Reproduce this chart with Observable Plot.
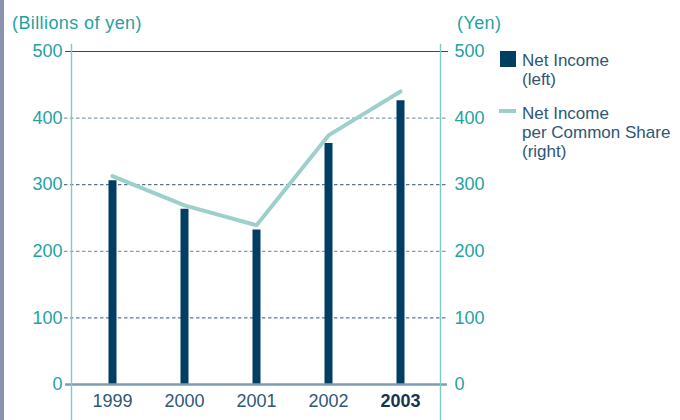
<!DOCTYPE html>
<html><head><meta charset="utf-8">
<script src="https://cdn.jsdelivr.net/npm/d3@7"></script>
<script src="https://cdn.jsdelivr.net/npm/@observablehq/plot@0.6"></script>
<style>
body{margin:0;background:#fff;}
#wrap{position:relative;width:680px;height:420px;overflow:hidden;font-family:"Liberation Sans",Arial,sans-serif;background:#fff;}
#wrap svg{position:absolute;left:0;top:0;}
#stripe{position:absolute;left:0;top:0;width:4px;height:420px;background:#8a92ad;}
.t{position:absolute;white-space:nowrap;}
.ttl{color:#1fa2a2;font-size:18px;line-height:20px;letter-spacing:0.4px;}
.lg{color:#2f5577;font-size:17px;line-height:19px;}
.sw{position:absolute;}
</style></head><body>
<div id="wrap"><div id="stripe"></div></div>
<script>
const years = ["1999","2000","2001","2002","2003"];
const netIncome = [306, 263, 232, 362, 426];        // billions of yen (left)
const perShare = [313, 269, 239, 374, 440];         // yen (right)
const yTicks = [0, 100, 200, 300, 400, 500];
const gridValues = [100, 200, 300, 400];
const leftTitle = "(Billions of yen)";
const rightTitle = "(Yen)";
const legendBar = ["Net Income", "(left)"];
const legendLine = ["Net Income", "per Common Share", "(right)"];
const boldYear = "2003";

const data = years.map((year, i) => ({year, ni: netIncome[i], eps: perShare[i]}));

const axisColor = "#1fa2a2";
const chart = Plot.plot({
  width: 680, height: 420,
  marginLeft: 71, marginRight: 240, marginTop: 51, marginBottom: 36,
  style: {fontFamily: "Liberation Sans, Arial, sans-serif", fontSize: "18px", background: "transparent"},
  x: {type: "point", domain: years, padding: 0.53},
  y: {domain: [0, 500]},
  marks: [
    Plot.ruleY(gridValues.filter(v => v % 200 === 0), {stroke: "#6a8499", strokeDasharray: "3.5,2.5", insetLeft: -7, insetRight: -7}),
    Plot.ruleY(gridValues.filter(v => v % 200 !== 0), {stroke: "#33536e", strokeDasharray: "3.5,2.5", insetLeft: -7, insetRight: -7}),
    Plot.ruleY([500], {stroke: "#2a4a66", insetLeft: -6, insetRight: -8}),
    Plot.ruleX(data, {x: "year", y1: 0, y2: "ni", stroke: "#003f63", strokeWidth: 8}),
    Plot.line(data, {x: "year", y: "eps", stroke: "#9dcfcb", strokeWidth: 4}),
    Plot.ruleY([0], {stroke: "#7f9db2", strokeWidth: 2.5, insetLeft: -6, insetRight: -7}),
    Plot.frame({anchor: "left", stroke: "#7fcaca", strokeWidth: 1.4, insetTop: -7, insetBottom: -36}),
    Plot.frame({anchor: "right", stroke: "#7fcaca", strokeWidth: 1.4, insetTop: -7, insetBottom: -36}),
    Plot.axisY({anchor: "left", ticks: yTicks, tickSize: 0, tickPadding: 9, color: axisColor, fill: axisColor, fontSize: 18, label: null}),
    Plot.axisY({anchor: "right", ticks: yTicks, tickSize: 0, tickPadding: 14, color: axisColor, fill: axisColor, fontSize: 18, label: null}),
    Plot.axisX({ticks: years.filter(y => y !== boldYear), tickSize: 0, tickPadding: 10, fill: "#2e5878", fontSize: 18, label: null}),
    Plot.axisX({ticks: [boldYear], tickSize: 0, tickPadding: 10, fill: "#173450", fontSize: 18, fontWeight: "bold", label: null})
  ]
});
const wrap = document.getElementById("wrap");
wrap.appendChild(chart);

function addText(lines, cls, left, top) {
  const d = document.createElement("div");
  d.className = "t " + cls;
  d.style.left = left + "px"; d.style.top = top + "px";
  lines.forEach((s, i) => {
    if (i) d.appendChild(document.createElement("br"));
    d.appendChild(document.createTextNode(s));
  });
  wrap.appendChild(d);
}
addText([leftTitle], "ttl", 12, 13);
addText([rightTitle], "ttl", 457, 13);
addText(legendBar, "lg", 522, 51);
addText(legendLine, "lg", 522, 104);
const sq = document.createElement("div");
sq.className = "sw";
Object.assign(sq.style, {left: "500px", top: "51px", width: "16px", height: "16px", background: "#003f63"});
wrap.appendChild(sq);
const ln = document.createElement("div");
ln.className = "sw";
Object.assign(ln.style, {left: "499px", top: "109px", width: "17px", height: "4px", background: "#9dcfcb"});
wrap.appendChild(ln);
</script>
</body></html>
